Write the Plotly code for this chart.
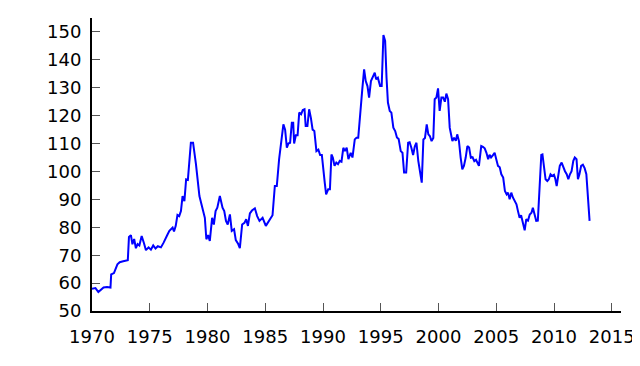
import plotly.graph_objects as go

# Time (decimal years) and index values
years = [
    1970.0, 1970.3, 1970.55, 1970.8, 1971.0, 1971.3, 1971.6, 1971.66, 1971.9, 1972.2,
    1972.4, 1972.7, 1973.1, 1973.2, 1973.37, 1973.5, 1973.65, 1973.8, 1973.95, 1974.1,
    1974.3, 1974.5, 1974.67, 1974.9, 1975.1, 1975.3, 1975.5, 1975.7, 1975.97, 1976.2,
    1976.4, 1976.55, 1976.7, 1976.98, 1977.1, 1977.25, 1977.4, 1977.55, 1977.7, 1977.84,
    1978.0, 1978.15, 1978.3, 1978.56, 1978.75, 1979.0, 1979.3, 1979.5, 1979.77, 1979.9,
    1980.05, 1980.2, 1980.4, 1980.55, 1980.7, 1980.85, 1981.07, 1981.3, 1981.45, 1981.6,
    1981.75, 1981.94, 1982.1, 1982.3, 1982.45, 1982.66, 1982.8, 1983.0, 1983.2, 1983.35,
    1983.5, 1983.67, 1983.85, 1984.1, 1984.3, 1984.5, 1984.77, 1985.05, 1985.3, 1985.63,
    1985.83, 1986.0, 1986.2, 1986.35, 1986.57, 1986.72, 1986.87, 1987.0, 1987.15, 1987.3,
    1987.42, 1987.5, 1987.65, 1987.8, 1987.94, 1988.1, 1988.25, 1988.4, 1988.5, 1988.65,
    1988.8, 1988.95, 1989.1, 1989.25, 1989.43, 1989.6, 1989.75, 1989.9, 1990.04, 1990.15,
    1990.27, 1990.45, 1990.6, 1990.73, 1990.85, 1991.0, 1991.15, 1991.3, 1991.45, 1991.6,
    1991.76, 1991.9, 1992.05, 1992.2, 1992.4, 1992.55, 1992.75, 1992.9, 1993.05, 1993.27,
    1993.4, 1993.56, 1993.7, 1993.85, 1993.99, 1994.15, 1994.3, 1994.48, 1994.6, 1994.75,
    1994.94, 1995.08, 1995.23, 1995.38, 1995.5, 1995.62, 1995.78, 1995.92, 1996.09, 1996.25,
    1996.4, 1996.55, 1996.73, 1996.88, 1997.02, 1997.2, 1997.37, 1997.5, 1997.65, 1997.8,
    1997.95, 1998.09, 1998.25, 1998.4, 1998.55, 1998.69, 1998.83, 1998.98, 1999.12, 1999.25,
    1999.4, 1999.55, 1999.67, 1999.82, 1999.96, 2000.1, 2000.25, 2000.4, 2000.55, 2000.68,
    2000.83, 2000.97, 2001.2, 2001.35, 2001.5, 2001.62, 2001.77, 2001.92, 2002.06, 2002.2,
    2002.35, 2002.5, 2002.65, 2002.8, 2002.95, 2003.1, 2003.25, 2003.5, 2003.7, 2003.85,
    2004.0, 2004.15, 2004.3, 2004.42, 2004.55, 2004.7, 2004.86, 2005.0, 2005.15, 2005.3,
    2005.44, 2005.6, 2005.75, 2005.9, 2006.02, 2006.16, 2006.3, 2006.45, 2006.6, 2006.75,
    2006.88, 2007.02, 2007.15, 2007.31, 2007.46, 2007.6, 2007.75, 2007.9, 2008.05, 2008.17,
    2008.32, 2008.46, 2008.6, 2008.75, 2008.9, 2009.0, 2009.12, 2009.27, 2009.42, 2009.55,
    2009.7, 2009.85, 2010.0, 2010.12, 2010.23, 2010.37, 2010.5, 2010.66, 2010.8, 2010.95,
    2011.1, 2011.24, 2011.38, 2011.52, 2011.67, 2011.8, 2011.95, 2012.07, 2012.2, 2012.35,
    2012.5, 2012.65, 2012.8, 2012.94, 2013.08,
]
values = [
    58.0, 58.2, 56.8, 57.8, 58.4, 58.6, 58.4, 63.1, 63.6, 66.7,
    67.5, 67.8, 68.2, 76.5, 77.2, 73.9, 75.8, 72.5, 74.0, 73.5,
    76.9, 74.3, 71.8, 72.8, 72.0, 73.5, 72.4, 73.2, 72.8, 74.5,
    76.5, 77.5, 78.7, 79.9, 78.5, 80.5, 84.4, 84.0, 85.8, 91.2,
    89.4, 97.2, 97.0, 110.3, 110.3, 102.6, 91.2, 88.2, 83.4, 75.7,
    77.2, 75.1, 83.4, 81.0, 85.8, 87.0, 91.2, 87.0, 85.8, 82.3,
    81.0, 84.6, 78.7, 79.3, 75.4, 74.0, 72.5, 81.0, 81.6, 82.9,
    80.5, 85.0, 86.0, 86.8, 84.0, 82.3, 83.4, 80.5, 82.0, 84.3,
    94.8, 94.8, 104.4, 110.3, 116.9, 115.0, 108.5, 110.0, 110.3, 117.5,
    117.5, 110.0, 113.0, 113.0, 121.1, 120.5, 122.0, 122.3, 116.3, 116.3,
    122.3, 119.2, 115.0, 114.5, 107.3, 107.8, 105.9, 105.9, 99.0, 96.0,
    91.8, 93.6, 93.6, 106.1, 105.0, 102.0, 103.2, 102.6, 103.8, 103.5,
    108.5, 107.3, 108.5, 104.4, 106.7, 105.0, 111.5, 112.1, 112.1, 125.3,
    129.4, 136.6, 132.4, 130.6, 126.5, 132.4, 133.6, 135.4, 133.0, 133.6,
    130.6, 130.6, 148.9, 146.8, 133.6, 124.7, 121.7, 121.1, 115.7, 114.5,
    112.2, 111.6, 107.3, 106.7, 99.6, 99.6, 110.3, 110.5, 108.5, 105.9,
    109.0, 110.3, 103.8, 99.0, 96.0, 111.5, 112.0, 116.9, 113.3, 112.7,
    110.9, 112.0, 125.9, 126.5, 129.8, 121.7, 126.5, 126.5, 125.0, 127.9,
    125.9, 115.7, 110.9, 112.1, 111.0, 113.3, 110.9, 104.9, 100.8, 102.0,
    104.9, 109.1, 108.6, 104.9, 105.1, 103.7, 104.2, 102.0, 109.1, 108.8,
    108.3, 106.7, 104.4, 106.0, 105.0, 105.8, 106.7, 104.4, 102.0, 101.5,
    99.0, 97.8, 93.0, 91.8, 92.4, 90.0, 92.4, 90.6, 89.4, 88.2,
    85.8, 83.4, 84.3, 81.0, 78.9, 82.9, 82.4, 84.6, 85.2, 87.0,
    84.0, 82.3, 82.4, 94.2, 105.9, 106.1, 101.2, 97.2, 96.6, 97.2,
    99.0, 98.4, 98.8, 97.2, 94.8, 99.0, 102.0, 103.2, 101.4, 100.1,
    99.0, 97.2, 99.0, 100.1, 103.8, 105.0, 104.4, 97.2, 99.0, 102.0,
    102.4, 101.2, 99.0, 90.6, 82.3,
]

x_ticks = [1970, 1975, 1980, 1985, 1990, 1995, 2000, 2005, 2010, 2015]
y_ticks = [50, 60, 70, 80, 90, 100, 110, 120, 130, 140, 150]

fig = go.Figure()
fig.add_trace(go.Scatter(
    x=years, y=values, mode="lines",
    line=dict(color="#0000ff", width=2),
    showlegend=False, hoverinfo="skip",
))

axis_font = dict(family="DejaVu Sans", size=18, color="black")
# the page body adds an 8px offset, so margins are shifted to compensate
fig.update_layout(
    width=640, height=366,
    margin=dict(l=84, r=27, t=10, b=63, autoexpand=False),
    paper_bgcolor="white", plot_bgcolor="white",
    font=axis_font,
    xaxis=dict(
        range=[1970, 2015.8], tickmode="array", tickvals=x_ticks,
        ticktext=[str(t) for t in x_ticks],
        ticks="inside", ticklen=8, tickcolor="#555", tickwidth=1,
        showline=True, linecolor="black", linewidth=2,
        showgrid=False, zeroline=False, ticklabelstandoff=8,
        tickfont=axis_font, automargin=False,
    ),
    yaxis=dict(
        range=[50, 155.0], tickmode="array", tickvals=y_ticks,
        ticktext=[str(t) for t in y_ticks],
        ticks="inside", ticklen=8, tickcolor="#555", tickwidth=1,
        showline=True, linecolor="black", linewidth=2,
        showgrid=False, zeroline=False, ticklabelstandoff=5,
        tickfont=axis_font, automargin=False,
    ),
)

fig.write_html("out.html")
